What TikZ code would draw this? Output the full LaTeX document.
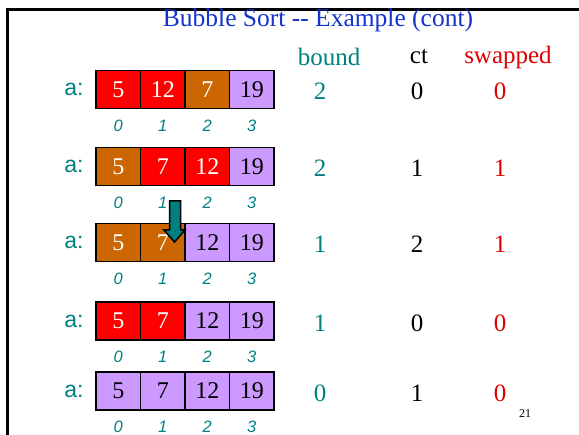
\documentclass[tikz,border=0pt]{standalone}
\usepackage{fontspec}
\setmainfont[Ligatures=NoCommon]{Liberation Serif}
\newfontfamily\arialfont{Liberation Sans}
\definecolor{cred}{RGB}{255,0,0}
\definecolor{corange}{RGB}{204,102,0}
\definecolor{clav}{RGB}{204,153,255}
\definecolor{cteal}{RGB}{0,128,128}
\definecolor{ctitle}{RGB}{20,50,205}
\definecolor{cvred}{RGB}{220,0,0}
\tikzset{
  cell/.style={draw=black, line width=1.5pt, minimum width=44.5pt, minimum height=38pt, inner sep=0pt, font=\fontsize{24}{24}\selectfont},
  R/.style={cell, fill=cred, text=white},
  O/.style={cell, fill=corange, text=white},
  L/.style={cell, fill=clav, text=black},
  alabel/.style={font=\arialfont\fontsize{23}{23}\selectfont, text=cteal, inner sep=0pt},
  idx/.style={font=\arialfont\itshape\fontsize{16.5}{16.5}\selectfont, text=cteal, inner sep=0pt},
  val/.style={font=\fontsize{25}{25}\selectfont, inner sep=0pt},
  hdr/.style={font=\fontsize{25}{25}\selectfont, inner sep=0pt},
}
\begin{document}
\begin{tikzpicture}[x=1pt,y=-1pt]
\useasboundingbox (0,0) rectangle (579,435);
% frame
\draw[line width=3pt] (7.5,435) -- (7.5,9.5) -- (579,9.5);
% title
\node[font=\fontsize{25.5}{25.5}\selectfont, text=ctitle, inner sep=0pt] (title) at (318,20) {Bubble Sort {-}{-} Example (cont)};
% headers
\node[hdr, text=cteal] (hbound) at (329,57) {bound};
\node[hdr] (hct) at (419,57) {ct};
\node[hdr, text=cvred] (hswap) at (508,57) {swapped};
% rows
\foreach \r/\y/\a/\b/\c/\d/\sa/\sb/\sc/\sd/\bd/\ct/\sw in {
  1/89.5/5/12/7/19/R/R/O/L/2/0/0,
  2/166.5/5/7/12/19/O/R/R/L/2/1/1,
  3/242.5/5/7/12/19/O/O/L/L/1/2/1,
  4/321/5/7/12/19/R/R/L/L/1/0/0,
  5/391/5/7/12/19/L/L/L/L/0/1/0}{
  \node[alabel] (a\r) at (74,\y) {a:};
  \node[\sa] (c\r0) at (118.25,\y) {\a};
  \node[\sb] (c\r1) at (162.75,\y) {\b};
  \node[\sc] (c\r2) at (207.25,\y) {\c};
  \node[\sd] (c\r3) at (251.75,\y) {\d};
  \foreach \k in {0,1,2,3}{
    \node[idx] (i\r\k) at ([yshift=-36pt]c\r\k.center) {\k};
  }
  \node[val, text=cteal] (b\r) at (320,\y+2) {\bd};
  \node[val] (t\r) at (417,\y+2) {\ct};
  \node[val, text=cvred] (s\r) at (500,\y+2) {\sw};
}
% arrow
\coordinate (arrtip) at (174.5,242);
\draw[line width=1.5pt, fill=cteal, line join=miter]
  (169.5,201) -- (180.5,201) -- (180.5,230) -- (185,230) -- (arrtip) -- (164,230) -- (169.5,230) -- cycle;
% page number
\node[font=\fontsize{12}{12}\selectfont, inner sep=0pt] (pg) at (525,414) {21};
\end{tikzpicture}
\end{document}
